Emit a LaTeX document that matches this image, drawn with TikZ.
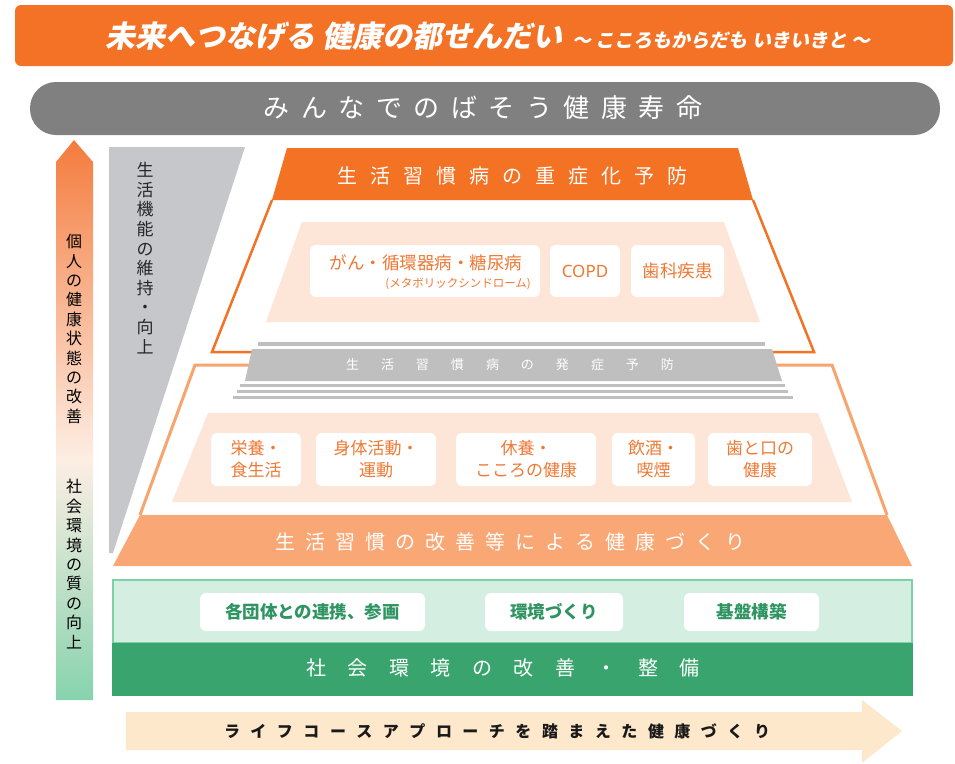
\documentclass[tikz,border=0pt]{standalone}
\usepackage{fontspec}
\setmainfont{Noto Sans CJK JP}
\newfontfamily\jpti{Noto Sans CJK JP}[FakeSlant=0.2]
\newfontfamily\latsans{Noto Sans}
\definecolor{orgA}{HTML}{F47225}
\definecolor{orgH}{HTML}{F37224}
\definecolor{orgL}{HTML}{F8A46F}
\definecolor{orgT}{HTML}{EE7934}
\definecolor{bandO}{HTML}{F9A774}
\definecolor{pinkU}{HTML}{FDE5D7}
\definecolor{grayP}{HTML}{808080}
\definecolor{grayT}{HTML}{C6C7CB}
\definecolor{grayB}{HTML}{BFBFBF}
\definecolor{greenL}{HTML}{D4EEE1}
\definecolor{greenE}{HTML}{7DD1A6}
\definecolor{greenD}{HTML}{39A46D}
\definecolor{greenT}{HTML}{2E9461}
\definecolor{peach}{HTML}{FDE8CC}
\definecolor{arrTop}{HTML}{F47B3D}
\definecolor{arrMid}{HTML}{FDEEE4}
\definecolor{arrBot}{HTML}{86D3AE}
\makeatletter
\def\spaced#1#2{\def\sp@sep{#1}\sp@first#2\relax}
\def\sp@first#1{#1\sp@next}
\def\sp@next#1{\ifx#1\relax\else\kern\sp@sep #1\expandafter\sp@next\fi}
\makeatother
\tikzset{
  wbox/.style={fill=white, rounded corners=6pt, inner sep=0pt},
  otext/.style={text=orgT, align=center, font=\fontsize{17}{22}\selectfont},
  gtext/.style={text=greenT, font=\bfseries\fontsize{17.5}{20}\selectfont},
  vtext/.style={align=center, inner sep=0pt},
}
\begin{document}
\begin{tikzpicture}[x=1pt,y=-1pt]
\useasboundingbox (0,0) rectangle (955,763);
\fill[white] (0,0) rectangle (955,763);
% title banner
\fill[orgA, rounded corners=6pt] (15,5) rectangle (953,66);
\node[text=white, inner sep=0pt] (title) at (488,36)
  {\jpti\bfseries\fontsize{30}{32}\selectfont 未来へつなげる 健康の都せんだい\hspace{10pt}{\fontsize{19}{20}\selectfont ～\hspace{4pt}こころもからだも いきいきと\hspace{4pt}～}};
% gray pill
\fill[grayP, rounded corners=26pt] (30,82) rectangle (940,135);
\node[text=white, inner sep=0pt] (lifespan) at (483,108)
  {\fontsize{26}{30}\selectfont\spaced{11.5pt}{みんなでのばそう健康寿命}};
% left arrow
\begin{scope}
  \clip (56,162) -- (74,140) -- (93,162) -- (93,700) -- (56,700) -- cycle;
  \shade[top color=arrTop, bottom color=arrMid] (55,139) rectangle (94,460);
  \shade[top color=arrMid, bottom color=arrBot] (55,459.5) rectangle (94,701);
\end{scope}
\node[vtext, font=\fontsize{16}{19.4}\selectfont] (indiv) at (74,329)
  {個\\人\\の\\健\\康\\状\\態\\の\\改\\善};
\node[vtext, font=\fontsize{16}{19.4}\selectfont] (social) at (74,564)
  {社\\会\\環\\境\\の\\質\\の\\向\\上};
% gray triangle
\fill[grayT] (109,147) -- (245,147) -- (113,553) -- (109,553) -- cycle;
\node[vtext, text=black!85, font=\fontsize{17}{19.6}\selectfont] (func) at (145,258)
  {生\\活\\機\\能\\の\\維\\持\\・\\向\\上};
% upper section
\fill[orgH] (287,148) -- (738,148) -- (753,200) -- (272,200) -- cycle;
\node[text=white, inner sep=0pt] (severe) at (512,176)
  {\fontsize{20}{24}\selectfont\spaced{13pt}{生活習慣病の重症化予防}};
\draw[orgH, line width=2.5pt, line join=miter] (272,200) -- (212,352) -- (814,352) -- (753,200);
\fill[pinkU] (302,222) -- (724,222) -- (760,322) -- (266,322) -- cycle;
\node[wbox, minimum width=230pt, minimum height=52pt] (d1) at (425,271) {};
\node[text=orgT, inner sep=0pt, font=\fontsize{17.5}{20}\selectfont] (d1a) at (426,263) {がん・循環器病・糖尿病};
\node[text=orgT, inner sep=0pt, font=\fontsize{11.5}{13}\selectfont, anchor=east] (d1b) at (531,284) {(メタボリックシンドローム)};
\node[wbox, minimum width=70pt, minimum height=52pt, text=orgT, font=\latsans\fontsize{17}{20}\selectfont] (d2) at (585,271) {COPD};
\node[wbox, minimum width=93pt, minimum height=52pt, text=orgT, font=\fontsize{17.5}{20}\selectfont] (d3) at (677.5,271) {歯科疾患};
% lower outline
\draw[orgL, line width=3pt, line join=miter] (140,515) -- (195,365) -- (832,365) -- (887,515);
% gray band
\fill[grayB] (258,342) rectangle (765,345.5);
\fill[grayB] (252,349) -- (772,349) -- (782,381) -- (245,381) -- cycle;
\fill[grayB] (240,383.5) rectangle (785,386.5);
\fill[grayB] (237,390) rectangle (788,393);
\fill[grayB] (233,396) rectangle (793,398.5);
\node[text=white, inner sep=0pt] (onset) at (510,365)
  {\fontsize{13}{15}\selectfont\spaced{22pt}{生活習慣病の発症予防}};
% lower pink
\fill[pinkU] (208,413) -- (818,413) -- (852,502) -- (172,502) -- cycle;
\node[wbox, minimum width=90pt, minimum height=53pt] (e1) at (256,459.5) {};
\node[otext] at (e1) {栄養・\\食生活};
\node[wbox, minimum width=120pt, minimum height=53pt] (e2) at (376,459.5) {};
\node[otext] at (e2) {身体活動・\\運動};
\node[wbox, minimum width=140pt, minimum height=53pt] (e3) at (526,459.5) {};
\node[otext] at (e3) {休養・\\こころの健康};
\node[wbox, minimum width=83pt, minimum height=53pt] (e4) at (653.5,459.5) {};
\node[otext] at (e4) {飲酒・\\喫煙};
\node[wbox, minimum width=104pt, minimum height=53pt] (e5) at (760,459.5) {};
\node[otext] at (e5) {歯と口の\\健康};
% orange band
\fill[bandO] (140,515) -- (887,515) -- (912,566) -- (113,566) -- cycle;
\node[text=white, inner sep=0pt] (habits) at (510,542)
  {\fontsize{20}{24}\selectfont\spaced{10pt}{生活習慣の改善等による健康づくり}};
% green section
\filldraw[fill=greenL, draw=greenE, line width=1.5pt] (113,580) rectangle (912,643);
\fill[greenD] (112,643) rectangle (913,696);
\node[wbox, minimum width=225pt, minimum height=38pt, gtext] (g1) at (312.5,612) {各団体との連携、参画};
\node[wbox, minimum width=138pt, minimum height=38pt, gtext] (g2) at (554,612) {環境づくり};
\node[wbox, minimum width=135pt, minimum height=38pt, gtext] (g3) at (751.5,612) {基盤構築};
\node[text=white, inner sep=0pt] (env) at (503,668)
  {\fontsize{20}{24}\selectfont\spaced{21.5pt}{社会環境の改善・整備}};
% bottom arrow
\fill[peach] (126,712) -- (862,712) -- (862,700) -- (902,731) -- (862,763) -- (862,750) -- (126,750) -- cycle;
\node[text=black!90, inner sep=0pt] (lifecourse) at (497,731)
  {\bfseries\fontsize{16}{20}\selectfont\spaced{10.5pt}{ライフコースアプローチを踏まえた健康づくり}};
\end{tikzpicture}
\end{document}
